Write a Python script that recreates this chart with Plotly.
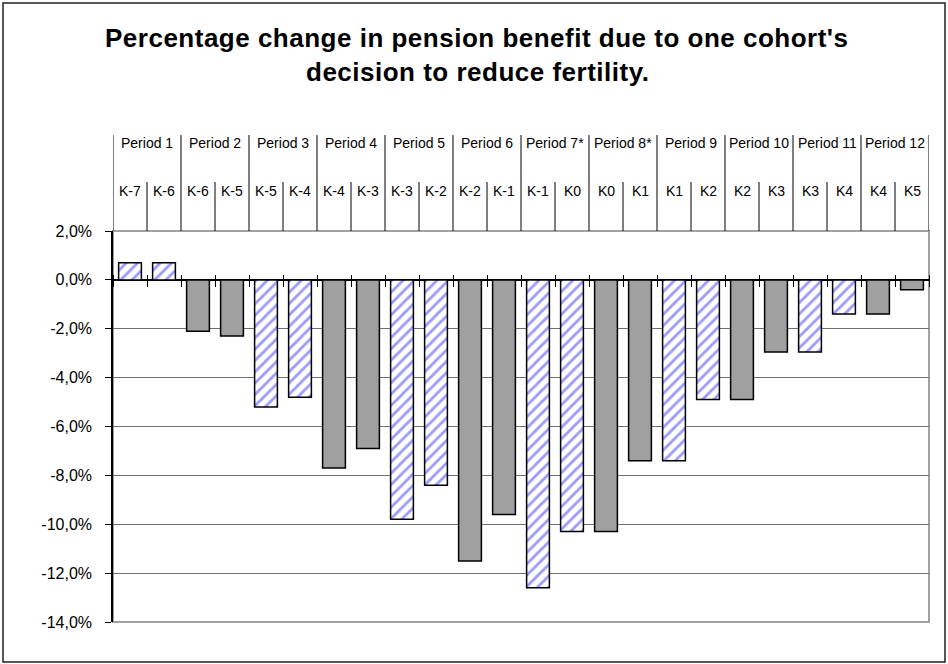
import plotly.graph_objects as go

periods = ["Period 1", "Period 2", "Period 3", "Period 4", "Period 5", "Period 6",
           "Period 7*", "Period 8*", "Period 9", "Period 10", "Period 11", "Period 12"]
cohorts = ["K-7", "K-6", "K-6", "K-5", "K-5", "K-4", "K-4", "K-3", "K-3", "K-2", "K-2", "K-1",
           "K-1", "K0", "K0", "K1", "K1", "K2", "K2", "K3", "K3", "K4", "K4", "K5"]
change = [0.7, 0.7, -2.1, -2.3, -5.2, -4.8, -7.7, -6.9, -9.8, -8.4, -11.5, -9.6,
          -12.6, -10.3, -10.3, -7.4, -7.4, -4.9, -4.9, -2.95, -2.95, -1.4, -1.4, -0.4]
ytick_vals = [2, 0, -2, -4, -6, -8, -10, -12, -14]
ytick_text = ["2,0%", "0,0%", "-2,0%", "-4,0%", "-6,0%", "-8,0%", "-10,0%", "-12,0%", "-14,0%"]

W, H = 948, 664
L, R, T, B = 113, 929, 231, 622   # plot area in pixels
FONT = "Liberation Sans, Arial, sans-serif"


def px_x(x):
    return (x - L) / (R - L)


def px_y(y):
    return (B - y) / (B - T)


xpos = list(range(len(cohorts)))
# odd periods are hatched, even periods solid grey
hatched = [(i // 2) % 2 == 0 for i in xpos]

fig = go.Figure()
fig.add_trace(go.Bar(
    x=[x for x, h in zip(xpos, hatched) if h],
    y=[v for v, h in zip(change, hatched) if h],
    width=0.67,
    marker=dict(color="white", line=dict(color="black", width=1.5),
                pattern=dict(shape="/", fgcolor="#9a9aff", bgcolor="white",
                             size=8, solidity=0.35, fillmode="replace")),
    hoverinfo="skip",
))
fig.add_trace(go.Bar(
    x=[x for x, h in zip(xpos, hatched) if not h],
    y=[v for v, h in zip(change, hatched) if not h],
    width=0.67,
    marker=dict(color="#a0a0a0", line=dict(color="black", width=1.5)),
    hoverinfo="skip",
))

shapes = []
# outer chart frame
shapes.append(dict(type="rect", xref="paper", yref="paper",
                   x0=px_x(3), x1=px_x(945), y0=px_y(662), y1=px_y(3),
                   line=dict(color="#202020", width=1.5)))
# plot area border
shapes.append(dict(type="rect", xref="paper", yref="paper", x0=0, x1=1, y0=0, y1=1,
                   line=dict(color="#a0a0a0", width=2), layer="below"))
# header table lines
for i in range(len(cohorts) + 1):
    top = 135 if i % 2 == 0 else 182
    shapes.append(dict(type="line", xref="x", yref="paper", x0=i - 0.5, x1=i - 0.5,
                       y0=1, y1=px_y(top), line=dict(color="black", width=1)))

annotations = []
for p, name in enumerate(periods):
    annotations.append(dict(x=2 * p + 0.5, y=px_y(143), xref="x", yref="paper",
                            text=name, showarrow=False, yanchor="middle",
                            font=dict(family=FONT, size=14, color="black")))
for i, k in enumerate(cohorts):
    annotations.append(dict(x=i, y=px_y(191), xref="x", yref="paper",
                            text=k, showarrow=False, yanchor="middle",
                            font=dict(family=FONT, size=14, color="black")))
title_lines = ["Percentage change in pension benefit due to one cohort's",
               "decision to reduce fertility."]
for j, line in enumerate(title_lines):
    annotations.append(dict(x=px_x(477), y=px_y(38 + 34 * j), xref="paper", yref="paper",
                            text="<span style='letter-spacing:0.5px'><b>%s</b></span>" % line,
                            showarrow=False, yanchor="middle",
                            font=dict(family=FONT, size=26, color="black")))

fig.update_layout(
    width=W, height=H,
    margin=dict(l=L, r=W - R, t=T, b=H - B, pad=0, autoexpand=False),
    paper_bgcolor="white", plot_bgcolor="white",
    showlegend=False,
    barmode="overlay",
    shapes=shapes,
    annotations=annotations,
    xaxis=dict(range=[-0.5, len(cohorts) - 0.5],
               tickvals=[i - 0.5 for i in range(len(cohorts) + 1)],
               ticks="outside", ticklen=12, tickcolor="black", tickwidth=1,
               showticklabels=False, showline=False, showgrid=False, zeroline=False,
               anchor="free", position=14 / 16 + 6 / (B - T)),
    yaxis=dict(range=[-14, 2], tickvals=ytick_vals, ticktext=ytick_text,
               ticks="outside", ticklen=6, tickcolor="black", tickwidth=1,
               showline=True, linecolor="black", linewidth=1.5,
               showgrid=True, gridcolor="#707070", gridwidth=1,
               zeroline=True, zerolinecolor="black", zerolinewidth=1.5,
               ticklabelstandoff=10,
               tickfont=dict(family=FONT, size=16, color="black")),
)

fig.write_html("out.html", config=dict(displayModeBar=False),
               post_script="document.body.style.margin='0';")
